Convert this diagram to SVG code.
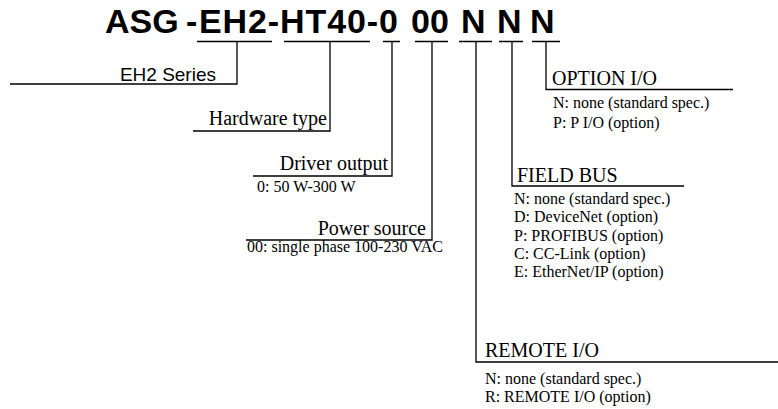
<svg xmlns="http://www.w3.org/2000/svg" width="778" height="409" viewBox="0 0 778 409">
<style>
.t{font-family:"Liberation Sans",Arial,sans-serif;font-weight:bold;font-size:34px;fill:#000}
.s{font-family:"Liberation Sans",Arial,sans-serif;font-size:19px;fill:#000}
.h{font-family:"Liberation Serif","Times New Roman",serif;font-size:20px;fill:#000}
.d{font-family:"Liberation Serif","Times New Roman",serif;font-size:16px;fill:#000}
.c{fill:none;stroke:#000;stroke-width:1.3}
</style>
<rect width="778" height="409" fill="#fff"/>
<g id="title">
<text class="t" x="105" y="33">ASG</text>
<text class="t" x="186" y="33">-</text>
<text class="t" x="199" y="33" textLength="199">EH2-HT40-0</text>
<text class="t" x="411" y="33">00</text>
<text class="t" x="461" y="33">N</text>
<text class="t" x="497" y="33">N</text>
<text class="t" x="530" y="33">N</text>
</g>
<g id="connectors">
<path class="c" d="M197 41.5H272M237 41.5V84H10"/>
<path class="c" d="M284 41.5H370M330 41.5V131H193"/>
<path class="c" d="M383 41.5H400M392 41.5V176H253"/>
<path class="c" d="M415 41.5H448M432 41.5V240H246"/>
<path class="c" d="M459 41.5H492M476 41.5V362H778"/>
<path class="c" d="M499 41.5H523M512 41.5V186H684"/>
<path class="c" d="M532 41.5H560M546 41.5V89.5H733"/>
</g>
<g id="series">
<text class="s" x="216" y="80.5" text-anchor="end">EH2 Series</text>
</g>
<g id="hardware">
<text class="h" x="327" y="124.5" text-anchor="end">Hardware type</text>
</g>
<g id="driver">
<text class="h" x="388" y="170" text-anchor="end">Driver output</text>
<text class="d" x="257" y="191.5">0: 50 W-300 W</text>
</g>
<g id="power">
<text class="h" x="426" y="235" text-anchor="end">Power source</text>
<text class="d" x="247" y="252">00: single phase 100-230 VAC</text>
</g>
<g id="option">
<text class="h" x="552" y="85">OPTION I/O</text>
<text class="d" x="553" y="108">N: none (standard spec.)</text>
<text class="d" x="553" y="128">P: P I/O (option)</text>
</g>
<g id="fieldbus">
<text class="h" x="517" y="181.5">FIELD BUS</text>
<text class="d" x="514" y="204">N: none (standard spec.)</text>
<text class="d" x="514" y="222.3">D: DeviceNet (option)</text>
<text class="d" x="514" y="240.6">P: PROFIBUS (option)</text>
<text class="d" x="514" y="259">C: CC-Link (option)</text>
<text class="d" x="514" y="277.3">E: EtherNet/IP (option)</text>
</g>
<g id="remote">
<text class="h" x="485" y="357">REMOTE I/O</text>
<text class="d" x="485" y="383.5">N: none (standard spec.)</text>
<text class="d" x="485" y="401.5">R: REMOTE I/O (option)</text>
</g>
</svg>
